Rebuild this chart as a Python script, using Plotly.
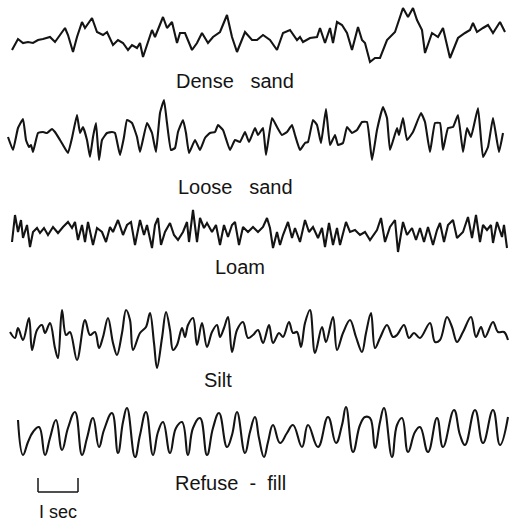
import plotly.graph_objects as go

# Seismograph-style microtremor records; time in ms, amplitude in arbitrary units
DENSE_SAND_T = [100, 250, 375, 500, 625, 750, 875, 1050, 1175, 1300, 1425, 1500, 1625, 1725, 1850, 1925, 2100, 2225, 2375, 2475,
                2625, 2750, 2875, 3000, 3100, 3225, 3300, 3375, 3600, 3675, 3875, 3975, 4100, 4225, 4300, 4425, 4600, 4725, 4850, 5000,
                5125, 5300, 5475, 5600, 5725, 5925, 6100, 6225, 6375, 6550, 6725, 6875, 7050, 7225, 7300, 7375, 7550, 7725, 7800, 7925,
                8050, 8125, 8225, 8350, 8475, 8600, 8750, 8850, 8925, 9050, 9175, 9300, 9475, 9675, 9875, 10000, 10125, 10225, 10350, 10425,
                10600, 10750, 10875, 11050, 11250, 11425, 11550, 11625, 11725, 11875, 12000, 12125, 12300, 12425]
DENSE_SAND_A = [-10, 1, -3, -2, -3, 0, 1, 3, -2, 5, 12, 5, -12, 3, 18, 12, 22, 8, 5, 8,
                -5, 0, -3, -10, -5, -8, -3, -17, 10, 3, 23, 12, 18, -3, 7, 7, -10, -3, 7, -3,
                3, 8, 25, 3, -12, 8, 0, 0, 5, 0, -10, 7, 10, 0, 3, -2, 2, 3, 12, -3,
                12, -3, 18, 15, 7, -10, 13, 0, -3, -22, -18, -18, 0, 8, 32, 23, 32, 20, 10, -13,
                7, 3, 12, -18, 2, 7, 10, 17, 8, 12, 15, 7, 18, 8]

LOOSE_SAND_T = [0, 125, 250, 375, 450, 525, 575, 625, 750, 875, 975, 1100, 1175, 1300, 1375, 1500, 1600, 1725, 1800, 1875,
                1975, 2050, 2125, 2200, 2275, 2350, 2475, 2600, 2675, 2800, 2900, 2975, 3100, 3225, 3300, 3475, 3600, 3700, 3800, 3900,
                3975, 4075, 4175, 4250, 4375, 4450, 4525, 4675, 4800, 4925, 5050, 5175, 5250, 5375, 5550, 5675, 5800, 5925, 6025, 6175,
                6250, 6375, 6450, 6600, 6725, 6850, 6975, 7100, 7175, 7300, 7425, 7500, 7625, 7725, 7825, 7950, 8050, 8175, 8250, 8375,
                8475, 8600, 8725, 8850, 8975, 9100, 9225, 9375, 9475, 9550, 9725, 9775, 9875, 9975, 10125, 10325, 10425, 10550, 10675, 10800,
                10875, 11000, 11125, 11250, 11375, 11475, 11575, 11750, 11875, 12000, 12125, 12275, 12375]
LOOSE_SAND_A = [-2, -15, 7, 16, -5, -12, -10, -17, 2, 3, 2, 6, 3, -5, -10, -18, -3, 20, 2, 8,
                -5, -22, -2, 12, -25, -5, 2, 3, 2, -20, -2, 15, 12, -2, -17, 12, 2, -17, 22, 35,
                12, -15, -13, 3, 15, 2, -18, -5, -15, -3, 2, 3, 10, 5, -15, -5, -7, 3, -7, 7,
                0, 7, -20, 17, 8, 0, 3, 10, 0, -15, -8, -7, 15, 10, -8, 26, -10, 0, -10, -8,
                8, 2, 5, 13, 13, -25, 5, 28, 17, -15, 7, 0, 17, -5, 3, 22, 13, -17, 12, 12,
                -15, 7, 8, 20, -17, 7, -2, 27, -22, -12, 17, -17, 2]

LOAM_T = [100, 175, 250, 325, 375, 475, 550, 625, 725, 800, 900, 1000, 1125, 1250, 1375, 1500, 1600, 1675, 1750, 1850,
          1925, 2000, 2125, 2225, 2350, 2450, 2550, 2625, 2750, 2875, 2975, 3075, 3175, 3300, 3400, 3475, 3600, 3675, 3750, 3825,
          3925, 4050, 4150, 4250, 4375, 4475, 4525, 4625, 4725, 4800, 4900, 4975, 5100, 5200, 5300, 5400, 5500, 5600, 5675, 5775,
          5875, 6000, 6125, 6250, 6375, 6475, 6550, 6625, 6725, 6800, 6875, 7000, 7100, 7175, 7300, 7425, 7525, 7625, 7750, 7850,
          7925, 8025, 8125, 8225, 8300, 8450, 8550, 8675, 8800, 8925, 9050, 9225, 9325, 9425, 9550, 9675, 9750, 9875, 9975, 10100,
          10200, 10300, 10400, 10500, 10625, 10725, 10800, 10900, 11000, 11125, 11225, 11375, 11500, 11600, 11700, 11800, 11875, 11975, 12075, 12125,
          12225, 12350, 12400, 12475]
LOAM_A = [-12, 15, -2, 10, -8, 5, -17, -2, 2, -3, 2, -5, 3, -3, 3, 8, 2, 8, -10, 5,
          -12, 8, -15, 2, -2, -12, 3, -2, 10, -5, 5, 8, -15, 10, -5, 5, -18, 5, 12, -15,
          -2, 7, -5, -10, -2, 8, -12, 20, -12, 12, 2, 7, -2, 5, -15, 5, -7, 5, 8, -15,
          3, -2, 3, -2, 3, 12, 2, -18, -2, -15, -5, 8, -8, 2, -12, 10, -2, 3, -8, 2,
          -17, 7, -15, 2, -15, 8, -2, 0, -5, -2, -10, 0, 12, -12, 3, 10, -22, 8, -5, 2,
          -10, 2, -12, 3, -15, 0, 7, -12, 5, 10, -8, -2, 13, -8, 15, -12, 5, 0, 5, -13,
          8, -7, 5, -18]

SILT_T = [50, 175, 250, 375, 525, 600, 725, 850, 925, 1050, 1175, 1250, 1350, 1450, 1550, 1725, 1925, 2050, 2175, 2275,
          2375, 2500, 2625, 2725, 2850, 2950, 3050, 3125, 3300, 3450, 3550, 3650, 3725, 3850, 3950, 4050, 4125, 4225, 4350, 4425,
          4500, 4625, 4725, 4850, 4975, 5100, 5225, 5300, 5400, 5500, 5600, 5725, 5875, 6000, 6125, 6250, 6375, 6525, 6625, 6775,
          6875, 7025, 7125, 7225, 7325, 7425, 7550, 7675, 7850, 7950, 8125, 8225, 8375, 8550, 8700, 8850, 8950, 9075, 9175, 9300,
          9475, 9625, 9725, 9900, 10025, 10150, 10300, 10550, 10675, 10800, 10975, 11100, 11225, 11375, 11575, 11700, 11825, 11925, 12125, 12250,
          12400, 12500]
SILT_A = [1, -5, 5, -7, 15, -17, 3, 8, 0, 10, -15, -25, 23, -2, 1, -27, 13, -2, 1, -15,
          -4, 15, -10, -22, 0, 23, 13, -17, 0, 6, 20, -10, -35, -5, 21, 3, -17, -12, 5, -4,
          8, 15, -12, 10, -14, 1, 8, -4, 5, 16, -19, 3, 11, -5, -2, 3, -10, 8, -10, 0,
          -4, 11, 0, 1, -14, 10, 23, -20, 6, -9, 16, -17, 0, 13, -4, -19, 0, 20, -15, -5,
          8, -4, -2, 8, -5, 0, -5, 10, -9, -7, 16, 6, -9, 1, 16, -4, 6, -4, 11, 1,
          1, -7]

REFUSE_FILL_T = [250, 375, 500, 625, 775, 925, 1050, 1200, 1350, 1500, 1675, 1850, 1975, 2125, 2275, 2400, 2600, 2750, 2875, 2975,
                 3175, 3300, 3450, 3625, 3750, 3875, 4050, 4200, 4350, 4500, 4625, 4800, 4975, 5125, 5275, 5475, 5600, 5725, 5925, 6050,
                 6175, 6275, 6400, 6500, 6625, 6800, 6975, 7125, 7350, 7500, 7750, 8000, 8200, 8350, 8450, 8625, 8800, 8925, 9050, 9175,
                 9300, 9400, 9600, 9725, 9850, 10000, 10175, 10300, 10500, 10725, 10875, 11150, 11300, 11425, 11675, 11875, 12125, 12300, 12500]
REFUSE_FILL_A = [12, -23, -10, 0, 5, -23, -6, 12, -18, 4, 20, -23, -6, 14, -15, 2, 19, -21, 10, 24,
                 -25, -3, 20, -23, 0, 10, -21, 4, 10, -23, 4, 14, -23, 4, 19, -15, -3, 20, -21, 0,
                 15, -6, -25, -10, 7, -11, -1, 7, -15, 7, -15, 15, -11, 7, 25, -20, 7, 15, 14, -16,
                 10, 24, -25, 7, 14, -20, 0, 5, -20, 14, -15, 22, -3, -13, 22, -11, 22, -13, 15]

LABELS = ["Dense\u00a0\u00a0\u00a0sand", "Loose\u00a0\u00a0\u00a0sand", "Loam", "Silt", "Refuse\u00a0\u00a0-\u00a0\u00a0fill"]
SCALE_BAR_S = 1.0
SCALE_LABEL = "I sec"

W, H = 512, 528
series = [
    (DENSE_SAND_T, DENSE_SAND_A, "linear", 0),
    (LOOSE_SAND_T, LOOSE_SAND_A, "spline", 0.35),
    (LOAM_T, LOAM_A, "linear", 0),
    (SILT_T, SILT_A, "spline", 1.0),
    (REFUSE_FILL_T, REFUSE_FILL_A, "spline", 1.25),
]
# layout: baseline (px from top) of each trace and its label position (px)
baselines = [40, 135, 230, 333, 432]
half = 40  # amplitude half-range shown per strip (1 unit = 1 px)
label_pos = [(235, 81), (235, 187), (240, 267), (218, 380), (230, 483)]

fig = go.Figure()
for i, (t, a, shape, sm) in enumerate(series):
    yname = "y" if i == 0 else f"y{i+1}"
    line = dict(color="#141414", width=2.1, shape=shape)
    if shape == "spline":
        line["smoothing"] = sm
    fig.add_trace(go.Scatter(
        x=[v / 1000 for v in t], y=a, mode="lines", xaxis="x", yaxis=yname,
        line=line, hoverinfo="skip", showlegend=False))

layout = dict(
    width=W, height=H, margin=dict(l=0, r=0, t=0, b=0),
    paper_bgcolor="white", plot_bgcolor="white",
    xaxis=dict(range=[-0.2, 12.6], visible=False, domain=[0, 1]),
)
for i, b in enumerate(baselines):
    key = "yaxis" if i == 0 else f"yaxis{i+1}"
    d0 = 1 - (b + half) / H
    d1 = 1 - (b - half) / H
    layout[key] = dict(range=[-half, half], domain=[max(0, d0), min(1, d1)],
                       visible=False, anchor="x", fixedrange=True)
fig.update_layout(**layout)

font = dict(family="Liberation Sans, Arial, sans-serif", size=20, color="#141414")
for text, (px, py) in zip(LABELS, label_pos):
    fig.add_annotation(text=text, x=px / W, y=1 - py / H, xref="paper", yref="paper",
                       showarrow=False, font=font, xanchor="center", yanchor="middle")

# 1-second scale bar (in data x units)
x0, x1 = 0.75, 0.75 + SCALE_BAR_S
ybar, ytop = 1 - 492 / H, 1 - 478 / H
for shp in [dict(x0=x0, x1=x1, y0=ybar, y1=ybar),
            dict(x0=x0, x1=x0, y0=ybar, y1=ytop),
            dict(x0=x1, x1=x1, y0=ybar, y1=ytop)]:
    fig.add_shape(type="line", xref="x", yref="paper", line=dict(color="#141414", width=1.5), **shp)
fig.add_annotation(text=SCALE_LABEL, x=(x0 + x1) / 2, y=1 - 512 / H, xref="x", yref="paper",
                   showarrow=False, font=dict(family="Liberation Sans, Arial, sans-serif", size=18, color="#141414"),
                   xanchor="center", yanchor="middle")

fig.write_html("out.html")
